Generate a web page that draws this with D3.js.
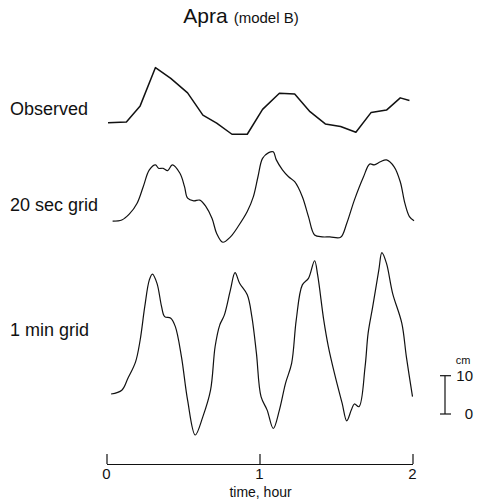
<!DOCTYPE html>
<html>
<head>
<meta charset="utf-8">
<script src="https://cdn.jsdelivr.net/npm/d3@7"></script>
<style>
  html, body { margin: 0; padding: 0; background: #fff; }
  svg { display: block; font-family: "Liberation Sans", Arial, Helvetica, sans-serif; }
</style>
</head>
<body>
<svg id="chart" width="482" height="502"></svg>
<script>
// ---- data (time in hours, sea level in cm) ----
const seriesNames = ["Observed", "20 sec grid", "1 min grid"];

const obsTime = [0.01,0.13,0.22,0.32,0.42,0.53,0.63,0.72,0.82,0.92,1.02,1.13,1.23,1.33,1.43,1.53,1.63,1.73,1.83,1.92,1.98];
const obsValue = [3.2,3.4,7.6,17.6,14.8,11.0,5.2,3.1,0.2,0.2,6.7,10.9,10.7,6.1,2.9,2.2,0.7,5.9,6.5,9.7,9.0];

const grid20Time = [0.04,0.10,0.15,0.20,0.24,0.28,0.32,0.34,0.37,0.40,0.43,0.48,0.51,0.53,0.57,0.61,0.65,0.69,0.72,0.76,0.81,0.86,0.92,0.96,0.99,1.02,1.06,1.09,1.11,1.15,1.19,1.23,1.28,1.32,1.36,1.41,1.46,1.53,1.57,1.62,1.68,1.72,1.75,1.79,1.83,1.88,1.92,1.95,1.98,2.01];
const grid20Value = [5.7,6.0,7.6,10.4,14.7,19.1,20.4,19.5,19.5,18.9,20.4,18.2,14.7,11.7,11.0,11.2,9.5,6.4,2.5,0.2,1.6,4.3,8.2,12.1,17.3,22.1,23.6,23.8,21.7,19.1,17.3,16.0,12.1,6.9,2.1,1.6,1.6,1.5,5.1,11.2,17.3,20.6,20.4,21.2,21.7,19.9,16.0,10.4,6.9,5.8];

const grid60Time = [0.03,0.10,0.14,0.19,0.22,0.25,0.28,0.30,0.33,0.36,0.38,0.42,0.45,0.49,0.53,0.58,0.63,0.68,0.71,0.74,0.77,0.81,0.84,0.87,0.92,0.95,0.98,1.01,1.05,1.09,1.13,1.17,1.21,1.24,1.28,1.32,1.36,1.38,1.42,1.45,1.49,1.54,1.57,1.60,1.62,1.65,1.69,1.71,1.74,1.78,1.80,1.83,1.87,1.93,1.96,2.00];
const grid60Value = [10.7,11.7,14.8,19.1,24.8,33.5,40.5,42.0,39.6,33.5,30.9,30.5,28.3,20.4,9.1,0.0,4.8,11.7,23.1,28.7,31.3,37.9,42.4,39.6,36.6,30.9,21.3,10.0,6.5,1.7,6.5,13.5,18.7,30.0,39.2,40.9,45.5,41.8,30.0,23.1,16.1,8.3,3.7,6.5,8.1,7.4,17.8,26.6,33.5,43.1,47.6,44.8,37.0,29.2,20.4,10.0];

const timeTicks = [0, 1, 2];
const timeTickLabels = ["0", "1", "2"];
const scaleBarValues = [0, 10];
const titleMain = "Apra";
const titleSub = "(model B)";
const xAxisTitle = "time,  hour";
const scaleUnit = "cm";

// ---- layout ----
const svg = d3.select("#chart");
const x = d3.scaleLinear().domain([0, 2]).range([106.5, 412.5]);
const pxPerCm = 3.83;
// amplitude scale (cm -> px displacement upward)
const amp = d3.scaleLinear().domain([0, 10]).range([0, -10 * pxPerCm]);

const series = [
  { name: seriesNames[0], t: obsTime, v: obsValue, base: 135, labelY: 115, width: 1.5, curve: d3.curveLinear },
  { name: seriesNames[1], t: grid20Time, v: grid20Value, base: 243, labelY: 211, width: 1.2, curve: d3.curveCatmullRom },
  { name: seriesNames[2], t: grid60Time, v: grid60Value, base: 435, labelY: 336, width: 1.2, curve: d3.curveCatmullRom }
];

series.forEach(s => {
  const data = s.t.map((t, i) => [t, s.v[i]]);
  const line = d3.line()
    .x(d => x(d[0]))
    .y(d => s.base + amp(d[1]))
    .curve(s.curve);
  svg.append("path")
    .datum(data)
    .attr("d", line)
    .attr("fill", "none")
    .attr("stroke", "#111")
    .attr("stroke-width", s.width)
    .attr("stroke-linejoin", "round");
  svg.append("text")
    .attr("x", 10)
    .attr("y", s.labelY)
    .attr("font-size", 18)
    .attr("fill", "#111")
    .text(s.name);
});

// title
const title = svg.append("text")
  .attr("x", 241)
  .attr("y", 23)
  .attr("text-anchor", "middle")
  .attr("fill", "#111");
title.append("tspan").attr("font-size", 21).text(titleMain);
title.append("tspan").attr("font-size", 15).attr("dx", 6).text(titleSub);

// time axis
const axisY = 464;
const axis = d3.axisTop(x)
  .tickValues(timeTicks)
  .tickFormat(() => "")
  .tickSize(10)
  .tickSizeOuter(0);
const axisG = svg.append("g")
  .attr("transform", `translate(0,${axisY})`)
  .call(axis);
axisG.select(".domain").attr("stroke", "#111").attr("stroke-width", 1.2);
axisG.selectAll(".tick line").attr("stroke", "#111").attr("stroke-width", 1.2);

svg.selectAll(".tlabel")
  .data(timeTicks)
  .enter().append("text")
  .attr("class", "tlabel")
  .attr("x", d => x(d))
  .attr("y", 479)
  .attr("text-anchor", "middle")
  .attr("font-size", 15)
  .attr("fill", "#111")
  .text((d, i) => timeTickLabels[i]);

svg.append("text")
  .attr("x", x(1) + 1)
  .attr("y", 497)
  .attr("text-anchor", "middle")
  .attr("font-size", 14)
  .attr("fill", "#111")
  .text(xAxisTitle);

// scale bar
const barX = 445;
const barBase = 414;
const barScale = d3.scaleLinear().domain([0, 10]).range([barBase, barBase - 10 * pxPerCm]);
const bar = svg.append("g");
bar.append("line")
  .attr("x1", barX).attr("x2", barX)
  .attr("y1", barScale(scaleBarValues[0])).attr("y2", barScale(scaleBarValues[1]))
  .attr("stroke", "#111").attr("stroke-width", 1.2);
scaleBarValues.forEach(v => {
  bar.append("line")
    .attr("x1", barX - 5).attr("x2", barX + 6)
    .attr("y1", barScale(v)).attr("y2", barScale(v))
    .attr("stroke", "#111").attr("stroke-width", 1.2);
  bar.append("text")
    .attr("x", 473)
    .attr("y", barScale(v) + 5)
    .attr("text-anchor", "end")
    .attr("font-size", 15)
    .attr("fill", "#111")
    .text(v);
});
bar.append("text")
  .attr("x", 463)
  .attr("y", barScale(10) - 12)
  .attr("text-anchor", "middle")
  .attr("font-size", 11)
  .attr("fill", "#111")
  .text(scaleUnit);
</script>
</body>
</html>
